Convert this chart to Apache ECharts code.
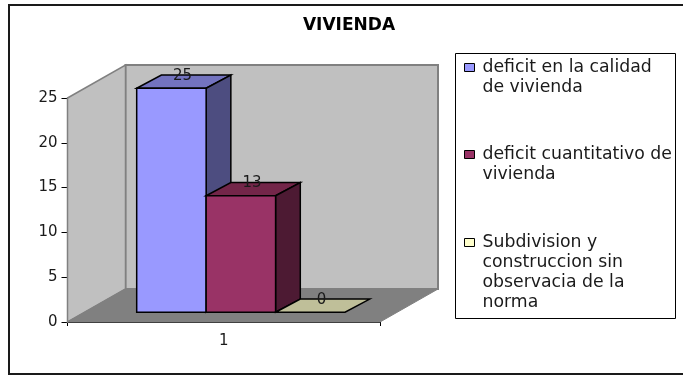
<!DOCTYPE html>
<html>
<head>
<meta charset="utf-8">
<style>html,body{margin:0;padding:0;background:#fff}#main{width:683px;height:376px}</style>
<script src="https://cdn.jsdelivr.net/npm/echarts@6/dist/echarts.min.js"></script>
</head>
<body>
<div id="main"></div>
<script>
//datos
var categories = ['1'];
var seriesNames = [
	'deficit en la calidad\nde vivienda',
	'deficit cuantitativo de\nvivienda',
	'Subdivision y\nconstruccion sin\nobservacia de la\nnorma'
];
var seriesValues = [25, 13, 0];
var yTicks = [0, 5, 10, 15, 20, 25];
var legendTops = [67.5, 154.5, 242.5];

var fontName = 'DejaVu Sans';
//front, top, side
var barColors = [
	['#9999ff', '#7373bf', '#4d4d80'],
	['#993366', '#732649', '#4d1a33'],
	['#ffffcc', '#bfbf99', '#808066']
];
//profundidad del piso
var depthX = 58, depthY = 33;

function poly(points, fill, stroke, width) {
	return {
		type: 'polygon',
		shape: {points: points},
		style: {fill: fill, stroke: stroke || 'none', lineWidth: width || 0}
	};
}

//paredes y piso del grafico
function renderWalls(params) {
	var c = params.coordSys;
	var l = c.x, r = c.x + c.width, t = c.y, b = c.y + c.height;
	return {
		type: 'group',
		children: [
			poly([[l + depthX, t - depthY], [r + depthX, t - depthY], [r + depthX, b - depthY], [l + depthX, b - depthY]], '#c0c0c0', '#808080', 2),
			poly([[l, t], [l + depthX, t - depthY], [l + depthX, b - depthY], [l, b]], '#c0c0c0', '#808080', 1.5),
			poly([[l, b], [l + depthX, b - depthY], [r + depthX, b - depthY], [r, b]], '#808080', '#808080', 1)
		]
	};
}

function makeRender(index) {
	return function (params, api) {
		var band = api.size([1, 0])[0];
		var w = band / 4.5;
		var c = params.coordSys;
		var base = api.coord([api.value(0), 0]);
		var top = api.coord([api.value(0), api.value(1)]);
		//la barra va al centro del piso
		var ox = depthX * 0.295, oy = depthY * 0.295;
		var dx = depthX * 0.426, dy = depthY * 0.4;
		var x0 = c.x + w * 0.75 + w * index + ox;
		var x1 = x0 + w;
		var yb = base[1] - oy, yt = top[1] - oy;
		var col = barColors[index];
		var children = [
			poly([[x0, yt], [x0 + dx, yt - dy], [x1 + dx, yt - dy], [x1, yt]], col[1], '#000', 1.5)
		];
		if (yb - yt > 0) {
			children.push(poly([[x1, yt], [x1 + dx, yt - dy], [x1 + dx, yb - dy], [x1, yb]], col[2], '#000', 1.5));
			children.push(poly([[x0, yt], [x1, yt], [x1, yb], [x0, yb]], col[0], '#000', 1.5));
		}
		children.push({
			type: 'text',
			z2: 10,
			style: {
				x: x0 + w / 2 + dx * 0.45,
				y: yt - dy + 1,
				text: String(api.value(1)),
				fill: '#1a1a1a',
				font: '15px "' + fontName + '"',
				align: 'center',
				verticalAlign: 'middle'
			}
		});
		return {type: 'group', children: children};
	};
}

var series = [{
	type: 'custom',
	name: 'walls',
	silent: true,
	z: 1,
	data: [[0, 0]],
	renderItem: renderWalls
}];
seriesValues.forEach(function (v, i) {
	series.push({
		type: 'custom',
		name: seriesNames[i],
		z: 2 + i,
		itemStyle: {color: barColors[i][0]},
		data: [[0, v]],
		encode: {x: 0, y: 1},
		renderItem: makeRender(i)
	});
});

var legends = seriesNames.map(function (name, i) {
	var lines = name.split('\n').length;
	return {
		data: [{name: name, icon: 'rect'}],
		left: 464,
		top: legendTops[i] - 10 - 20 * (lines - 1),
		orient: 'vertical',
		selectedMode: false,
		itemWidth: 10,
		itemHeight: 8,
		padding: 0,
		itemStyle: {borderColor: '#000', borderWidth: 1},
		textStyle: {fontFamily: fontName, fontSize: 17.3, color: '#1a1a1a', lineHeight: 20, padding: [0, 0, 0, 3]},
		//el simbolo queda en la primera linea
		formatter: function (n) {
			return new Array(n.split('\n').length).join('\n') + n;
		}
	};
});

var option = {
	animation: false,
	title: {
		text: 'VIVIENDA',
		left: 344,
		top: 12,
		textAlign: 'center',
		textStyle: {fontFamily: fontName, fontSize: 17, fontWeight: 'bold', color: '#000'}
	},
	legend: legends,
	grid: {left: 67.5, right: 303, top: 98, bottom: 54},
	xAxis: {
		type: 'category',
		data: categories,
		axisLine: {lineStyle: {color: '#000', width: 1}},
		axisTick: {show: true, length: 4, alignWithLabel: false, lineStyle: {color: '#000'}},
		axisLabel: {color: '#1a1a1a', fontFamily: fontName, fontSize: 15, margin: 12},
		splitLine: {show: false}
	},
	yAxis: {
		type: 'value',
		min: yTicks[0],
		max: yTicks[yTicks.length - 1],
		interval: 5,
		axisLine: {show: true, lineStyle: {color: '#000', width: 1}},
		axisTick: {show: true, length: 6, lineStyle: {color: '#000'}},
		axisLabel: {color: '#1a1a1a', fontFamily: fontName, fontSize: 15, margin: 10},
		splitLine: {show: false}
	},
	graphic: [
		//marco exterior, el lado derecho queda fuera de la imagen
		{type: 'rect', z: -2, shape: {x: 9, y: 5, width: 690, height: 369}, style: {fill: '#fff', stroke: '#1a1a1a', lineWidth: 2}},
		{type: 'rect', z: -1, shape: {x: 455.5, y: 53.5, width: 220, height: 265}, style: {fill: '#fff', stroke: '#000', lineWidth: 1}}
	],
	series: series
};

var chart = echarts.init(document.getElementById('main'));
chart.setOption(option);
</script>
</body>
</html>
